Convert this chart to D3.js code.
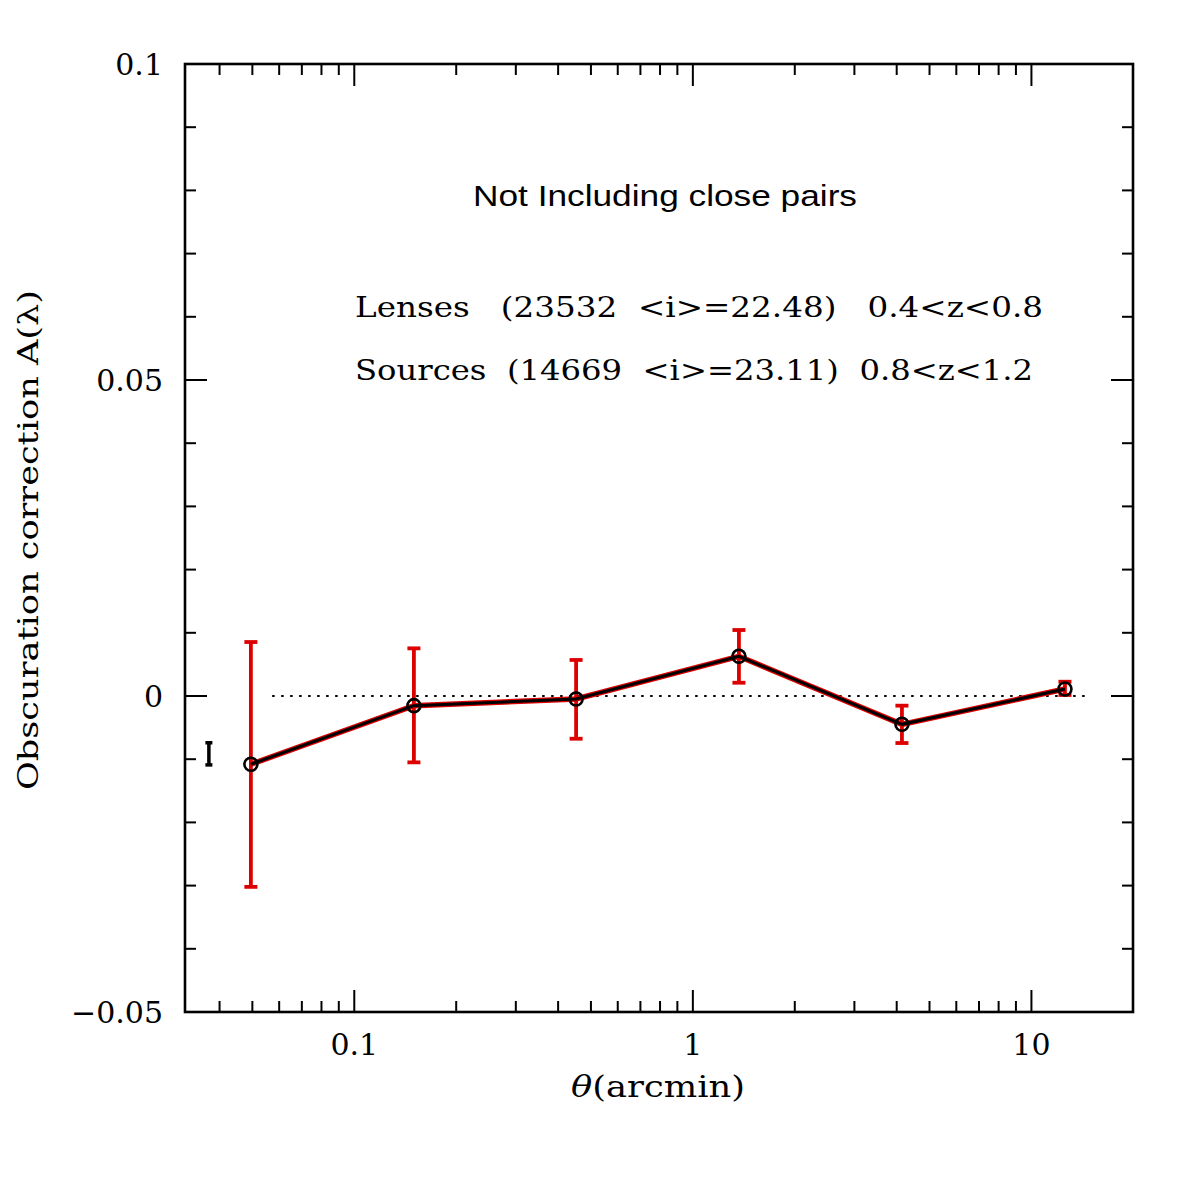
<!DOCTYPE html>
<html>
<head>
<meta charset="utf-8">
<script src="https://cdn.jsdelivr.net/npm/d3@7"></script>
<style>
  html, body { margin: 0; padding: 0; background: #fff; }
  svg { display: block; }
  text { white-space: pre; }
</style>
</head>
<body>
<div id="chart"></div>
<script>
// ---- data ----
const theta = [0.0495, 0.150, 0.452, 1.368, 4.145, 12.56];
const aValue = [-0.0108, -0.00153, -0.00047, 0.00628, -0.00448, 0.0011];
const aErrLow = [-0.0302, -0.0105, -0.00676, 0.0021, -0.00744, 0.00016];
const aErrHigh = [0.00854, 0.00754, 0.0057, 0.01044, -0.00153, 0.00226];
const refBarTheta = [0.0372];
const refBarLow = [-0.0109];
const refBarHigh = [-0.0074];
const zeroLineRange = [0.0572, 14.4];
const xTickLabels = [0.1, 1, 10];
const yMajorTicks = [-0.05, 0, 0.05, 0.1];
const yTickLabels = ["\u22120.05", "0", "0.05", "0.1"];
const titleText = "Not Including close pairs";
const lensesText = "Lenses   (23532  <i>=22.48)   0.4<z<0.8";
const sourcesText = "Sources  (14669  <i>=23.11)  0.8<z<1.2";
const yLabelText = "Obscuration correction A(\u03bb)";

(function () {
// ---- layout ----
const W = 1195, H = 1195;
const pL = 185, pR = 1133, pT = 64, pB = 1012;
const RED = "#dd0000";
const serif = "'DejaVu Serif', serif";

const svg = d3.select("#chart").append("svg").attr("width", W).attr("height", H);

const x = d3.scaleLog().domain([Math.pow(10, -1.5), Math.pow(10, 1.3)]).range([pL, pR]);
const y = d3.scaleLinear().domain([-0.05, 0.1]).range([pB, pT]);

// ticks
const xAll = x.ticks();
const isMajor = v => Math.abs(Math.log10(v) - Math.round(Math.log10(v))) < 1e-9;
const tickG = svg.append("g").attr("stroke", "#000").attr("stroke-width", 2);
xAll.forEach(v => {
  const len = isMajor(v) ? 22 : 11;
  const px = x(v);
  if (px <= pL + 0.5 || px >= pR - 0.5) return;
  tickG.append("line").attr("x1", px).attr("x2", px).attr("y1", pB).attr("y2", pB - len);
  tickG.append("line").attr("x1", px).attr("x2", px).attr("y1", pT).attr("y2", pT + len);
});
const yMinor = d3.range(-5, 11).map(i => i / 100);
yMinor.forEach(v => {
  const major = yMajorTicks.some(m => Math.abs(m - v) < 1e-9);
  const len = major ? 22 : 11;
  const py = y(v);
  tickG.append("line").attr("x1", pL).attr("x2", pL + len).attr("y1", py).attr("y2", py);
  tickG.append("line").attr("x1", pR).attr("x2", pR - len).attr("y1", py).attr("y2", py);
});

// frame
svg.append("rect").attr("x", pL).attr("y", pT).attr("width", pR - pL).attr("height", pB - pT)
  .attr("fill", "none").attr("stroke", "#000").attr("stroke-width", 2.6);

// tick labels
svg.append("g").selectAll("text").data(xTickLabels).join("text")
  .attr("x", d => x(d)).attr("y", 1055).attr("text-anchor", "middle")
  .attr("font-family", serif).attr("font-size", 30).attr("fill", "#000")
  .text(d => String(d));
svg.append("g").selectAll("text").data(yMajorTicks).join("text")
  .attr("x", 163).attr("y", d => y(d) + 11).attr("text-anchor", "end")
  .attr("font-family", serif).attr("font-size", 30).attr("fill", "#000")
  .text((d, i) => yTickLabels[i]);

// zero dotted line
svg.append("line").attr("x1", x(zeroLineRange[0])).attr("x2", x(zeroLineRange[1]))
  .attr("y1", y(0)).attr("y2", y(0)).attr("stroke", "#000").attr("stroke-width", 2)
  .attr("stroke-dasharray", "2.5,6.5");

// error bars
const eg = svg.append("g").attr("stroke", RED).attr("stroke-width", 3.8).attr("fill", "none");
theta.forEach((t, i) => {
  const px = x(t);
  eg.append("line").attr("x1", px).attr("x2", px).attr("y1", y(aErrLow[i])).attr("y2", y(aErrHigh[i]));
  [aErrLow[i], aErrHigh[i]].forEach(v => {
    eg.append("line").attr("x1", px - 6.5).attr("x2", px + 6.5).attr("y1", y(v)).attr("y2", y(v));
  });
});

// reference small bar
const rg = svg.append("g").attr("stroke", "#000").attr("stroke-width", 3.5);
refBarTheta.forEach((t, i) => {
  const px = x(t);
  rg.append("line").attr("x1", px).attr("x2", px).attr("y1", y(refBarLow[i])).attr("y2", y(refBarHigh[i]));
  [refBarLow[i], refBarHigh[i]].forEach(v => {
    rg.append("line").attr("x1", px - 3.5).attr("x2", px + 3.5).attr("y1", y(v)).attr("y2", y(v));
  });
});

// connecting line
const pts = theta.map((t, i) => [t, aValue[i]]);
const lineGen = d3.line().x(d => x(d[0])).y(d => y(d[1]));
svg.append("path").attr("d", lineGen(pts)).attr("fill", "none").attr("stroke", RED).attr("stroke-width", 5.5);
svg.append("path").attr("d", lineGen(pts)).attr("fill", "none").attr("stroke", "#000").attr("stroke-width", 3);

// markers
svg.append("g").selectAll("circle").data(pts).join("circle")
  .attr("cx", d => x(d[0])).attr("cy", d => y(d[1])).attr("r", 6.5)
  .attr("fill", "none").attr("stroke", "#000").attr("stroke-width", 2.6);

// annotations
svg.append("text").attr("x", 473).attr("y", 206)
  .attr("font-family", "'Liberation Sans', Arial, sans-serif").attr("font-size", 30)
  .attr("textLength", 384).attr("lengthAdjust", "spacingAndGlyphs").text(titleText);
svg.append("text").attr("x", 355).attr("y", 317)
  .attr("font-family", serif).attr("font-size", 28.5)
  .attr("textLength", 688).attr("lengthAdjust", "spacingAndGlyphs").text(lensesText);
svg.append("text").attr("x", 355).attr("y", 380)
  .attr("font-family", serif).attr("font-size", 28.5)
  .attr("textLength", 678).attr("lengthAdjust", "spacingAndGlyphs").text(sourcesText);

// axis labels
const xl = svg.append("text").attr("x", 658).attr("y", 1097).attr("text-anchor", "middle")
  .attr("font-family", serif).attr("font-size", 29).attr("textLength", 174).attr("lengthAdjust", "spacingAndGlyphs");
xl.append("tspan").attr("font-style", "italic").text("\u03b8");
xl.append("tspan").text("(arcmin)");

svg.append("text").attr("transform", "translate(38,540) rotate(-90)").attr("text-anchor", "middle")
  .attr("font-family", serif).attr("font-size", 27)
  .attr("textLength", 500).attr("lengthAdjust", "spacingAndGlyphs").text(yLabelText);
})();
</script>
</body>
</html>
